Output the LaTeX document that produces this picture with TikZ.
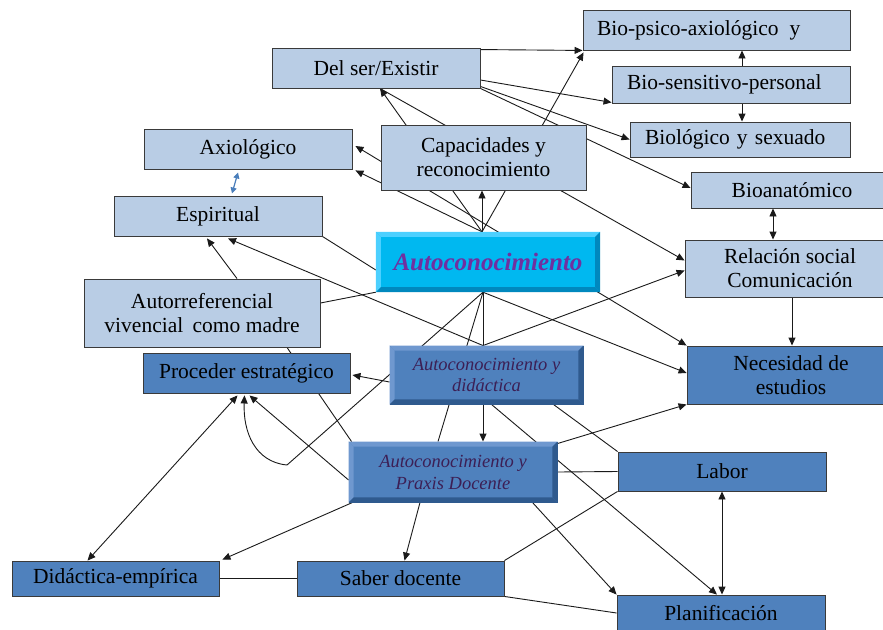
\documentclass[tikz,border=0pt]{standalone}
\usepackage{fontspec}
\setmainfont{Liberation Serif}
\usetikzlibrary{arrows.meta,calc}
\definecolor{lightbox}{HTML}{B9CDE5}
\definecolor{darkbox}{HTML}{4F81BD}
\definecolor{cyanbox}{HTML}{00B8F0}
\definecolor{cyanlight}{HTML}{4CD0FF}
\definecolor{cyandark}{HTML}{0088BE}
\definecolor{bluelight}{HTML}{6F98CF}
\definecolor{bluedark}{HTML}{2F5A8E}
\definecolor{boxline}{HTML}{3A3A3A}
\definecolor{linecol}{HTML}{1A1A1A}
\definecolor{autotext}{HTML}{7030A0}
\definecolor{ittext}{HTML}{3C1F55}
\definecolor{smallblue}{HTML}{4A7EBB}
\pgfdeclarelayer{lines}
\pgfsetlayers{lines,main}
\newcommand{\bevelbox}[4]{%
 \fill[#2] (#1.north west) -- (#1.north east) -- ($(#1.north east)+(-#4,#4)$) -- ($(#1.north west)+(#4,#4)$) -- cycle;
 \fill[#2] (#1.north west) -- ($(#1.north west)+(#4,#4)$) -- ($(#1.south west)+(#4,-#4)$) -- (#1.south west) -- cycle;
 \fill[#3] (#1.south west) -- ($(#1.south west)+(#4,-#4)$) -- ($(#1.south east)+(-#4,-#4)$) -- (#1.south east) -- cycle;
 \fill[#3] (#1.north east) -- (#1.south east) -- ($(#1.south east)+(-#4,-#4)$) -- ($(#1.north east)+(-#4,#4)$) -- cycle;
}
\tikzset{
 box/.style={draw=boxline, line width=0.9pt, inner sep=0pt, align=center, font=\fontsize{21.5}{24}\selectfont},
 lbox/.style={box, fill=lightbox},
 dbox/.style={box, fill=darkbox},
 itbox/.style={box, fill=darkbox, draw=bluedark, text=ittext, font=\fontsize{18.5}{21.5}\selectfont\itshape},
 conn/.style={line width=0.9pt, draw=linecol},
 arr/.style={conn, -{Triangle[length=8pt,width=7pt]}},
 darr/.style={conn, {Triangle[length=8pt,width=7pt]}-{Triangle[length=8pt,width=7pt]}},
}
\begin{document}
\begin{tikzpicture}[x=1pt,y=-1pt]
\useasboundingbox (0,0) rectangle (883,629);
\clip (0,0) rectangle (883,629);
% boxes
\node[lbox, minimum height=40pt, inner xsep=14pt, text width=239pt, align=left] (biopsico) at (716.5,30) {Bio-psico-axiológico\hspace{4pt} y};
\node[lbox, minimum width=208pt, minimum height=40pt] (delser) at (376,68) {Del ser/Existir};
\node[lbox, minimum height=37pt, inner xsep=15pt, text width=208pt, align=left] (biosens) at (731,84.5) {Bio-sensitivo-personal};
\node[lbox, minimum height=35pt, inner xsep=15pt, text width=190pt, align=left] (biolog) at (740,139.5) {Biológico y sexuado};
\node[lbox, minimum width=208pt, minimum height=40pt] (axio) at (248,149) {Axiológico};
\node[lbox, minimum width=205pt, minimum height=65pt] (cap) at (483.5,157.5) {Capacidades y\\reconocimiento};
\node[lbox, minimum width=192pt, minimum height=36pt] (bioanat) at (787,190) {\hspace{10pt}Bioanatómico};
\node[lbox, minimum width=208pt, minimum height=40pt] (espir) at (218,216) {Espiritual};
\node[fill=cyanbox, inner sep=0pt, minimum width=224pt, minimum height=60pt] (auto) at (488,262) {};
\node[lbox, minimum width=198pt, minimum height=57pt] (relac) at (784,268.5) {\hspace{12pt}Relación social\\\hspace{12pt}Comunicación};
\node[lbox, minimum width=236pt, minimum height=68pt] (autoref) at (202,313) {Autorreferencial\\vivencial\hspace{4pt} como madre};
\node[dbox, minimum width=207pt, minimum height=40pt] (proced) at (246.5,373) {Proceder estratégico};
\node[itbox, minimum width=193pt, minimum height=58pt] (didac) at (486.5,375) {};
\node[dbox, minimum width=196pt, minimum height=58pt] (neces) at (785,375) {\hspace{12pt}Necesidad de\\\hspace{12pt}estudios};
\node[itbox, minimum width=208pt, minimum height=60pt] (praxis) at (453,472) {};
\node[dbox, minimum width=208pt, minimum height=39pt] (labor) at (722,471.5) {Labor};
\node[dbox, minimum width=207pt, minimum height=35pt] (didemp) at (115.5,578.5) {Didáctica-empírica};
\node[dbox, minimum width=207pt, minimum height=35pt] (saber) at (400.5,578.5) {Saber docente};
\node[dbox, minimum width=208pt, minimum height=36pt] (planif) at (721,613) {Planificación};
% bevels and texts on bevelled boxes
\bevelbox{auto}{cyanlight}{cyandark}{5}
\node[text=autotext, font=\fontsize{25}{28}\selectfont\bfseries\itshape] (autotxt) at (auto) {Autoconocimiento};
\bevelbox{didac}{bluelight}{bluedark}{5}
\node[align=center, text=ittext, font=\fontsize{18.5}{21}\selectfont\itshape] (didactxt) at (didac) {Autoconocimiento y\\didáctica};
\bevelbox{praxis}{bluelight}{bluedark}{5}
\node[align=center, text=ittext, font=\fontsize{18.5}{22}\selectfont\itshape] (praxistxt) at (praxis) {Autoconocimiento y\\Praxis Docente};
% connectors
\begin{pgfonlayer}{lines}
\fill[white] (0,0) rectangle (883,629);
\coordinate (atop) at ($(auto.north)+(-6,0)$);
\coordinate (abot) at ($(auto.south)+(-5,0)$);
\coordinate (dtop) at ($(didac.north)+(-3.5,0)$);
\coordinate (bend) at (287,465);
\coordinate (bsx) at ($(biosens.north)+(11,0)$);
\coordinate (bsy) at ($(biosens.south)+(11,0)$);
\coordinate (ba) at ($(bioanat.south)+(-14,0)$);
\coordinate (rn) at ($(relac.south)+(8,0)$);
\draw[arr] ($(delser.north east)+(0,2)$) -- (biopsico.south west);
\draw[arr] ($(delser.east)+(0,12)$) -- ($(biosens.south west)+(0,-1)$);
\draw[arr] ($(delser.south east)+(0,-2)$) -- (biolog.west);
\draw[arr] (delser.south east) -- ($(bioanat.west)+(0,-2)$);
\draw[arr] ($(delser.south)+(4,0)$) -- ($(relac.west)+(0,-8)$);
\draw[arr] (atop) -- ($(delser.south)+(4,0)$);
\draw[arr] (atop) -- (atop |- cap.south);
\draw[arr] (atop) -- ($(biopsico.south west)+(1,2)$);
\draw[arr] (atop) -- ($(axio.south east)+(3,1)$);
\draw[darr] ($(axio.east)+(3,-3)$) -- (neces.north west);
\draw[conn] (abot) -- (dtop);
\draw[conn] (abot) -- ($(praxis.north)+(-15,0)$);
\draw[arr] (abot) -- (bend) .. controls (255,462) and (243,432) .. ($(proced.south)+(-2,2)$);
\draw[arr] (abot) -- ($(neces.west)+(0,-2)$);
\draw[arr] (dtop) -- ($(espir.south)+(10,2)$);
\draw[arr] (dtop) -- ($(relac.west)+(0,2)$);
\draw[arr] ($(autoref.north)+(35,0)$) -- ($(espir.south)+(-11,2)$);
\draw[conn] (espir.south east) -- ($(auto.west)+(0,8)$);
\draw[conn] ($(autoref.east)+(0,-10)$) -- (auto.south west);
\draw[conn] ($(autoref.south)+(85,0)$) -- ($(praxis.north west)+(3,0)$);
\draw[arr] ($(didac.west)+(0,7)$) -- ($(proced.east)+(2,2)$);
\draw[arr] (didac.south -| dtop) -- (praxis.north -| dtop);
\draw[arr] ($(didac.south)+(5,0)$) -- ($(planif.north)+(-4,0)$);
\draw[conn] ($(didac.south east)+(-30,0)$) -- (labor.north west);
\draw[conn] (praxis.east) -- (labor.west);
\draw[arr] ($(praxis.north east)+(0,2)$) -- (neces.south west);
\draw[arr] ($(praxis.south)+(-33,0)$) -- ($(saber.north)+(4,0)$);
\draw[arr] ($(praxis.south west)+(4,0)$) -- ($(didemp.north east)+(3,-1)$);
\draw[arr] ($(praxis.west)+(0,8)$) -- ($(proced.south)+(3,2)$);
\draw[arr] ($(praxis.south east)+(-25,0)$) -- (planif.north west);
\draw[darr] ($(didemp.north)+(-28,0)$) -- ($(proced.south)+(-9,2)$);
\draw[conn] (didemp.east) -- (saber.west);
\draw[conn] (saber.north east) -- (labor.south west);
\draw[conn] (saber.south east) -- (planif.west);
\draw[darr] (labor.south) -- (labor.south |- planif.north);
\draw[arr] (bsx) -- (bsx |- biopsico.south);
\draw[arr] (bsy) -- (bsy |- biolog.north);
\draw[darr] (ba) -- (ba |- relac.north);
\draw[arr] (rn) -- (rn |- neces.north);
\draw[line width=1.2pt, smallblue, {Triangle[length=6pt,width=6pt]}-{Triangle[length=6pt,width=6pt]}] ($(axio.south)+(-10,3)$) -- ($(espir.north)+(14,-2)$);
\end{pgfonlayer}
\end{tikzpicture}
\end{document}
